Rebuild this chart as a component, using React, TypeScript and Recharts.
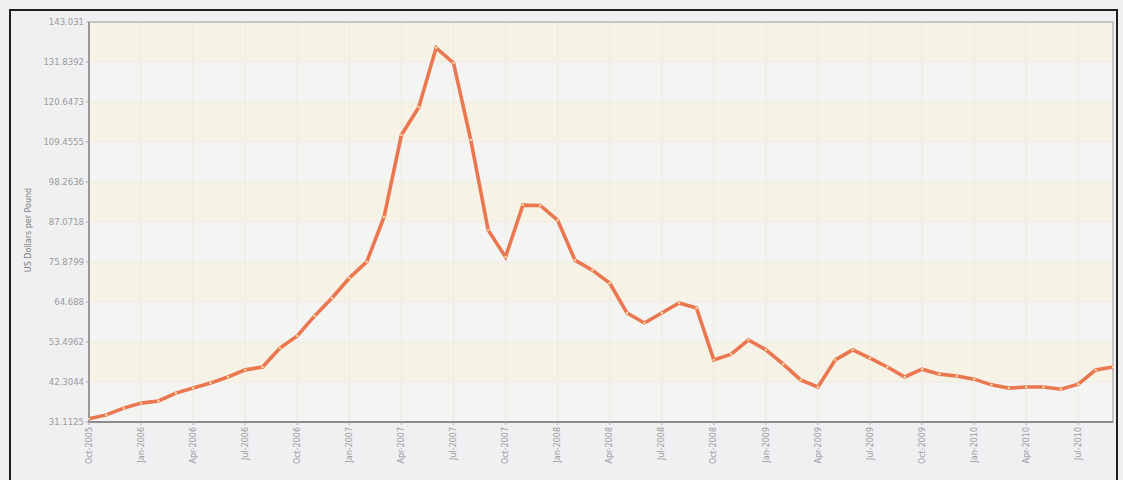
import { LineChart, Line, XAxis, YAxis, CartesianGrid, ReferenceArea } from 'recharts';

// monthly series, Oct-2005 .. Sep-2010
const months = [
  'Oct-2005', 'Nov-2005', 'Dec-2005',
  'Jan-2006', 'Feb-2006', 'Mar-2006', 'Apr-2006', 'May-2006', 'Jun-2006',
  'Jul-2006', 'Aug-2006', 'Sep-2006', 'Oct-2006', 'Nov-2006', 'Dec-2006',
  'Jan-2007', 'Feb-2007', 'Mar-2007', 'Apr-2007', 'May-2007', 'Jun-2007',
  'Jul-2007', 'Aug-2007', 'Sep-2007', 'Oct-2007', 'Nov-2007', 'Dec-2007',
  'Jan-2008', 'Feb-2008', 'Mar-2008', 'Apr-2008', 'May-2008', 'Jun-2008',
  'Jul-2008', 'Aug-2008', 'Sep-2008', 'Oct-2008', 'Nov-2008', 'Dec-2008',
  'Jan-2009', 'Feb-2009', 'Mar-2009', 'Apr-2009', 'May-2009', 'Jun-2009',
  'Jul-2009', 'Aug-2009', 'Sep-2009', 'Oct-2009', 'Nov-2009', 'Dec-2009',
  'Jan-2010', 'Feb-2010', 'Mar-2010', 'Apr-2010', 'May-2010', 'Jun-2010',
  'Jul-2010', 'Aug-2010', 'Sep-2010',
];

const prices = [
  32.0, 33.1, 35.0,
  36.4, 37.0, 39.2, 40.6, 42.0, 43.7,
  45.7, 46.5, 51.8, 55.2, 60.8, 65.8,
  71.4, 75.9, 88.5, 111.4, 119.2, 135.8,
  131.6, 110.0, 84.8, 77.3, 91.8, 91.7,
  87.6, 76.4, 73.6, 70.0, 61.6, 58.8,
  61.6, 64.4, 63.0, 48.5, 50.1, 54.1,
  51.3, 47.3, 42.9, 40.9, 48.5, 51.3,
  49.0, 46.5, 43.7, 45.9, 44.5, 44.0,
  43.1, 41.5, 40.6, 40.9, 40.9, 40.3,
  41.7, 45.7, 46.5,
];

const yTicks = [
  31.1125, 42.3044, 53.4962, 64.688, 75.8799, 87.0718,
  98.2636, 109.4555, 120.6473, 131.8392, 143.031,
];

const data = months.map((month, i) => ({ month, price: prices[i] }));

const FONT = '"DejaVu Sans", sans-serif';

function MonthTick({ x, y, payload }: any) {
  return (
    <text
      x={x}
      y={y}
      transform={`rotate(-90 ${x} ${y})`}
      textAnchor="end"
      dy="0.33em"
      fontSize={8}
      fontFamily={FONT}
      fill="#9a9a9a"
    >
      {payload.value}
    </text>
  );
}

function AxisTitle({ viewBox }: any) {
  const x = viewBox.x - 1;
  const y = viewBox.y + viewBox.height / 2 + 8;
  return (
    <text
      x={x}
      y={y}
      transform={`rotate(-90 ${x} ${y})`}
      textAnchor="middle"
      dy="0.33em"
      fontSize={8}
      fontFamily={FONT}
      fill="#808080"
    >
      US Dollars per Pound
    </text>
  );
}

export default function App() {
  return (
    <div
      style={{
        position: 'fixed',
        left: 0,
        top: 0,
        width: 1123,
        height: 480,
        overflow: 'hidden',
        background: '#f0f0f2',
      }}
    >
      <div
        style={{
          position: 'absolute',
          left: 9,
          top: 9,
          width: 1109,
          height: 490,
          border: '2px solid #1e1e1e',
          boxSizing: 'border-box',
        }}
      />
      <div style={{ position: 'absolute', left: 0, top: 0 }}>
        <LineChart
          width={1123}
          height={480}
          data={data}
          margin={{ top: 22, right: 10, left: 29, bottom: 8 }}
        >
          <CartesianGrid
            stroke="#eceae4"
            horizontalFill={['#f6f2e5', '#f4f4f2']}
            fillOpacity={1}
          />
          <ReferenceArea
            x1={months[0]}
            x2={months[months.length - 1]}
            y1={yTicks[0]}
            y2={yTicks[yTicks.length - 1]}
            fill="none"
            stroke="#b9b9b9"
            strokeWidth={1.5}
          />
          <XAxis
            dataKey="month"
            interval={2}
            height={50}
            tick={<MonthTick />}
            tickSize={3}
            tickMargin={2}
            axisLine={{ stroke: '#777', strokeWidth: 1.5 }}
            tickLine={{ stroke: '#aaa' }}
          />
          <YAxis
            width={60}
            domain={[yTicks[0], yTicks[yTicks.length - 1]]}
            ticks={yTicks}
            interval={0}
            tickSize={3}
            tickMargin={2}
            tick={{ fontSize: 8.5, fontFamily: FONT, fill: '#9a9a9a' }}
            axisLine={{ stroke: '#888', strokeWidth: 1.5 }}
            tickLine={{ stroke: '#aaa' }}
            label={(props: any) => <AxisTitle {...props} />}
          />
          <Line
            type="linear"
            dataKey="price"
            stroke="#ea774f"
            strokeWidth={3.6}
            dot={{ r: 1.2, fill: '#f9dca8', stroke: 'none' }}
            activeDot={false}
            isAnimationActive={false}
          />
        </LineChart>
      </div>
    </div>
  );
}
